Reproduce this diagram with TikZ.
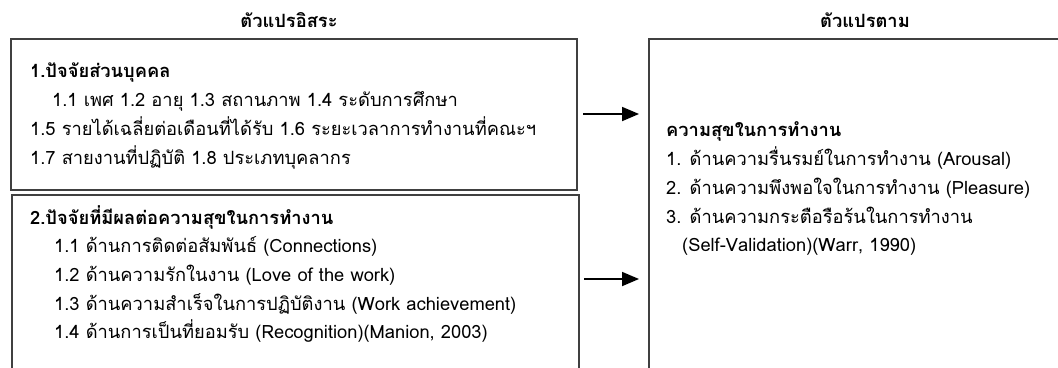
\documentclass[tikz,border=0pt]{standalone}
\usepackage{fontspec}
\setmainfont[Script=Thai]{Loma}
\usetikzlibrary{arrows.meta}
\begin{document}
\begin{tikzpicture}[x=1pt,y=-1pt,
  box/.style={draw=black!75,line width=2pt,rectangle,inner sep=0pt},
  txt/.style={anchor=base west,inner sep=0pt,font=\fontsize{18.3}{20}\selectfont},
  head/.style={txt,font=\fontsize{18.3}{20}\selectfont\bfseries},
  ttl/.style={anchor=base,inner sep=0pt,font=\fontsize{18.3}{20}\selectfont\bfseries},
  conn/.style={line width=1.8pt,-{Triangle[length=17pt,width=14pt]}}]
\useasboundingbox (0,0) rectangle (1058,367);
\clip (0,0) rectangle (1058,367);
% boxes
\node[box,minimum width=566pt,minimum height=151pt] (b1) at (294,114.5) {};
\node[box,minimum width=567pt,minimum height=200pt] (b2) at (295.5,294.5) {};
\node[box,minimum width=431pt,minimum height=400pt] (b3) at (864.5,238.5) {};
% titles
\node[ttl] (t1) at (289,27) {ตัวแปรอิสระ};
\node[ttl] (t2) at (865,27) {ตัวแปรตาม};
% box 1 text
\node[head] (h1) at (30,77) {1.ปัจจัยส่วนบุคคล};
\node[txt] (l11) at (52,106) {1.1 เพศ 1.2 อายุ 1.3 สถานภาพ 1.4 ระดับการศึกษา};
\node[txt] (l15) at (30,135) {1.5 รายได้เฉลี่ยต่อเดือนที่ได้รับ 1.6 ระยะเวลาการทำงานที่คณะฯ};
\node[txt] (l17) at (30,164) {1.7 สายงานที่ปฏิบัติ 1.8 ประเภทบุคลากร};
% box 2 text
\node[head] (h2) at (30,224) {2.ปัจจัยที่มีผลต่อความสุขในการทำงาน};
\node[txt] (l21) at (54,252) {1.1 ด้านการติดต่อสัมพันธ์ (Connections)};
\node[txt] (l22) at (54,281) {1.2 ด้านความรักในงาน (Love of the work)};
\node[txt] (l23) at (54,310) {1.3 ด้านความสำเร็จในการปฏิบัติงาน (Work achievement)};
\node[txt] (l24) at (54,338) {1.4 ด้านการเป็นที่ยอมรับ (Recognition)(Manion, 2003)};
% right box text
\node[head] (h3) at (666,136) {ความสุขในการทำงาน};
\node[txt] (r1) at (666,165) {1. ด้านความรื่นรมย์ในการทำงาน (Arousal)};
\node[txt] (r2) at (666,194) {2. ด้านความพึงพอใจในการทำงาน (Pleasure)};
\node[txt] (r3) at (666,223) {3. ด้านความกระตือรือร้นในการทำงาน};
\node[txt] (r4) at (682,251) {(Self-Validation)(Warr, 1990)};
% arrows
\coordinate (a1s) at (b1.east |- 0,114);
\coordinate (a1e) at (b3.west |- 0,114);
\coordinate (a2s) at (b2.east |- 0,279);
\coordinate (a2e) at (b3.west |- 0,279);
\draw[conn,shorten <=5pt,shorten >=9pt] (a1s) -- (a1e);
\draw[conn,shorten <=4pt,shorten >=9pt] (a2s) -- (a2e);
\end{tikzpicture}
\end{document}
